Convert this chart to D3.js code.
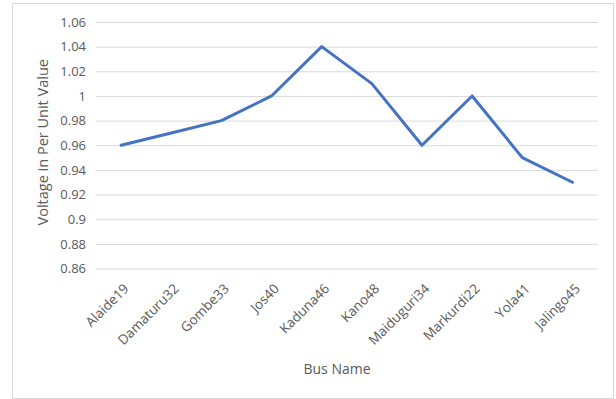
<!DOCTYPE html>
<html>
<head>
<meta charset="utf-8">
<script src="https://cdn.jsdelivr.net/npm/d3@7"></script>
<style>
  html, body { margin: 0; padding: 0; background: #fff; }
  svg { display: block; }
</style>
</head>
<body>
<div id="chart"></div>
<script>
// Bus voltages (per unit) along the network
const busNames = ["Alaide19", "Damaturu32", "Gombe33", "Jos40", "Kaduna46", "Kano48", "Maiduguri34", "Markurdi22", "Yola41", "Jalingo45"];
const voltages = [0.96, 0.97, 0.98, 1.0, 1.04, 1.01, 0.96, 1.0, 0.95, 0.93];
const yTicks = [0.86, 0.88, 0.9, 0.92, 0.94, 0.96, 0.98, 1.0, 1.02, 1.04, 1.06];
const yTickLabels = ["0.86", "0.88", "0.9", "0.92", "0.94", "0.96", "0.98", "1", "1.02", "1.04", "1.06"];

const W = 616, H = 399;
const plot = { left: 96, right: 597.5, top: 22, bottom: 268.5 };
const font = "'Open Sans', 'Noto Sans', sans-serif";
const textColor = "#595959";

const svg = d3.select("#chart").append("svg")
  .attr("width", W).attr("height", H);

// chart frame
svg.append("rect")
  .attr("x", 12.5).attr("y", 3.5)
  .attr("width", 601).attr("height", 395)
  .attr("fill", "#fff").attr("stroke", "#d9d9d9").attr("stroke-width", 1);

const x = d3.scalePoint().domain(busNames)
  .range([plot.left, plot.right]).padding(0.5);
const y = d3.scaleLinear().domain([0.86, 1.06])
  .range([plot.bottom, plot.top]);

// horizontal gridlines + y labels via axis
const yAxis = d3.axisLeft(y)
  .tickValues(yTicks)
  .tickFormat((d, i) => yTickLabels[i])
  .tickSize(-(plot.right - plot.left))
  .tickPadding(10);

const gy = svg.append("g")
  .attr("transform", `translate(${plot.left},0)`)
  .call(yAxis);
gy.select(".domain").remove();
gy.selectAll(".tick line")
  .attr("stroke", "#d9d9d9").attr("stroke-width", 1);
gy.selectAll(".tick text")
  .attr("fill", textColor)
  .style("font-family", font).style("font-size", "13px");

// x axis labels, rotated
const xAxis = d3.axisBottom(x).tickSize(0).tickPadding(0);
const gx = svg.append("g")
  .attr("transform", `translate(0,${plot.bottom})`)
  .call(xAxis);
gx.select(".domain").remove();
gx.selectAll(".tick text")
  .attr("fill", textColor)
  .style("font-family", font).style("font-size", "13.5px")
  .attr("text-anchor", "end")
  .attr("dy", null).attr("y", 0)
  .attr("transform", "translate(8,21) rotate(-45)");

// the series line
const line = d3.line()
  .x((d, i) => x(busNames[i]))
  .y(d => y(d));

svg.append("path")
  .datum(voltages)
  .attr("d", line)
  .attr("fill", "none")
  .attr("stroke", "#4472C4")
  .attr("stroke-width", 3)
  .attr("stroke-linejoin", "round")
  .attr("stroke-linecap", "round");

// axis titles
svg.append("text")
  .attr("x", 337).attr("y", 374)
  .attr("text-anchor", "middle")
  .attr("fill", textColor)
  .style("font-family", font).style("font-size", "14px")
  .text("Bus Name");

svg.append("text")
  .attr("transform", `translate(48,${(plot.top + plot.bottom) / 2 - 3}) rotate(-90)`)
  .attr("text-anchor", "middle")
  .attr("fill", textColor)
  .style("font-family", font).style("font-size", "14.5px")
  .text("Voltage in Per Unit Value");
</script>
</body>
</html>
